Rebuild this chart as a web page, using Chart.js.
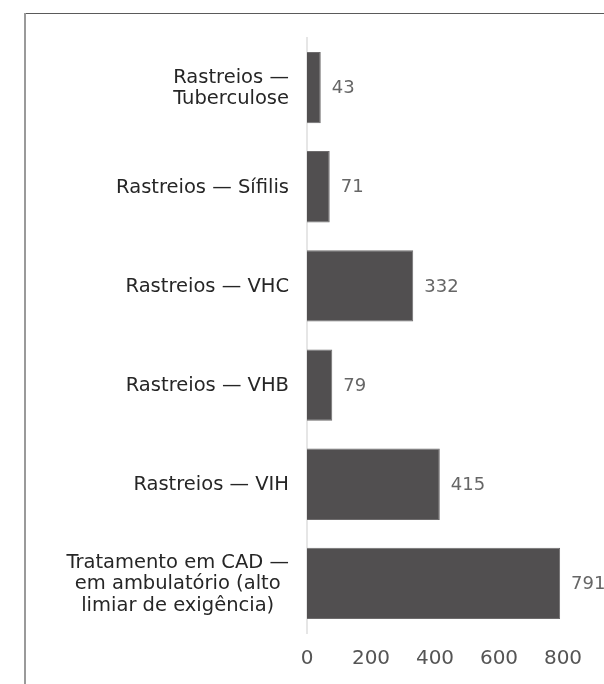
<!DOCTYPE html>
<html><head><meta charset="utf-8">
<script src="https://cdn.jsdelivr.net/npm/chart.js@4"></script>
<style>
html,body{margin:0;padding:0;background:#fff;}
#wrap{position:relative;width:604px;height:684px;overflow:hidden;background:#fff;}
#top{position:absolute;left:24px;top:13px;width:700px;height:1px;background:#5a5a5a;}
#left{position:absolute;left:24px;top:13px;width:2px;height:800px;background:#9a9a9a;}
canvas{position:absolute;left:0;top:0;}
</style></head>
<body><div id="wrap"><div id="top"></div><div id="left"></div><canvas id="c" width="604" height="684"></canvas></div>
<script>
const categories = [
  ["Rastreios —", "Tuberculose"],
  ["Rastreios — Sífilis"],
  ["Rastreios — VHC"],
  ["Rastreios — VHB"],
  ["Rastreios — VIH"],
  ["Tratamento em CAD —", "em ambulatório (alto", "limiar de exigência)"]
];
const values = [43, 71, 332, 79, 415, 791];
const xTicks = [0, 200, 400, 600, 800];

const FONT = "'DejaVu Sans', sans-serif";

const labelPlugin = {
  id: 'labels',
  afterDatasetsDraw(chart) {
    const ctx = chart.ctx;
    const meta = chart.getDatasetMeta(0);
    const yScale = chart.scales.y;
    ctx.save();
    // value labels
    ctx.font = "18px " + FONT;
    ctx.fillStyle = '#666';
    ctx.textAlign = 'left';
    ctx.textBaseline = 'middle';
    meta.data.forEach((bar, i) => {
      ctx.fillText(String(values[i]), bar.x + 11, bar.y + 1);
    });
    // category labels
    ctx.font = "19.5px " + FONT;
    ctx.fillStyle = '#262626';
    ctx.textAlign = 'center';
    const rightEdge = 289, lh = 21.5;
    categories.forEach((lines, i) => {
      const y = yScale.getPixelForValue(i);
      let w = 0;
      lines.forEach(l => { w = Math.max(w, ctx.measureText(l).width); });
      const cx = rightEdge - w / 2;
      lines.forEach((l, j) => {
        ctx.fillText(l, cx, y + (j - (lines.length - 1) / 2) * lh + 1);
      });
    });
    ctx.restore();
  }
};

new Chart(document.getElementById('c'), {
  type: 'bar',
  data: {
    labels: categories.map(c => c.join(' ')),
    datasets: [{
      data: values,
      backgroundColor: '#514f50',
      borderColor: '#6e6c6d',
      borderWidth: 1,
      barPercentage: 0.9,
      categoryPercentage: 0.8
    }]
  },
  options: {
    indexAxis: 'y',
    responsive: false,
    animation: false,
    devicePixelRatio: 1,
    layout: { padding: { top: 38, right: 41, left: 0, bottom: 0 } },
    plugins: { legend: { display: false }, tooltip: { enabled: false } },
    scales: {
      x: {
        min: 0, max: 800,
        afterBuildTicks: s => { s.ticks = xTicks.map(v => ({ value: v })); },
        ticks: { font: { family: FONT, size: 20 }, color: '#555', padding: 14 },
        grid: { display: false, drawTicks: false },
        border: { display: false },
        afterFit: s => { s.height = 51; }
      },
      y: {
        ticks: { display: false },
        grid: { display: false, drawTicks: false },
        border: { display: true, color: '#e6e6e6', width: 2 },
        afterFit: s => { s.width = 307; }
      }
    }
  },
  plugins: [labelPlugin]
});
</script>
</body></html>
